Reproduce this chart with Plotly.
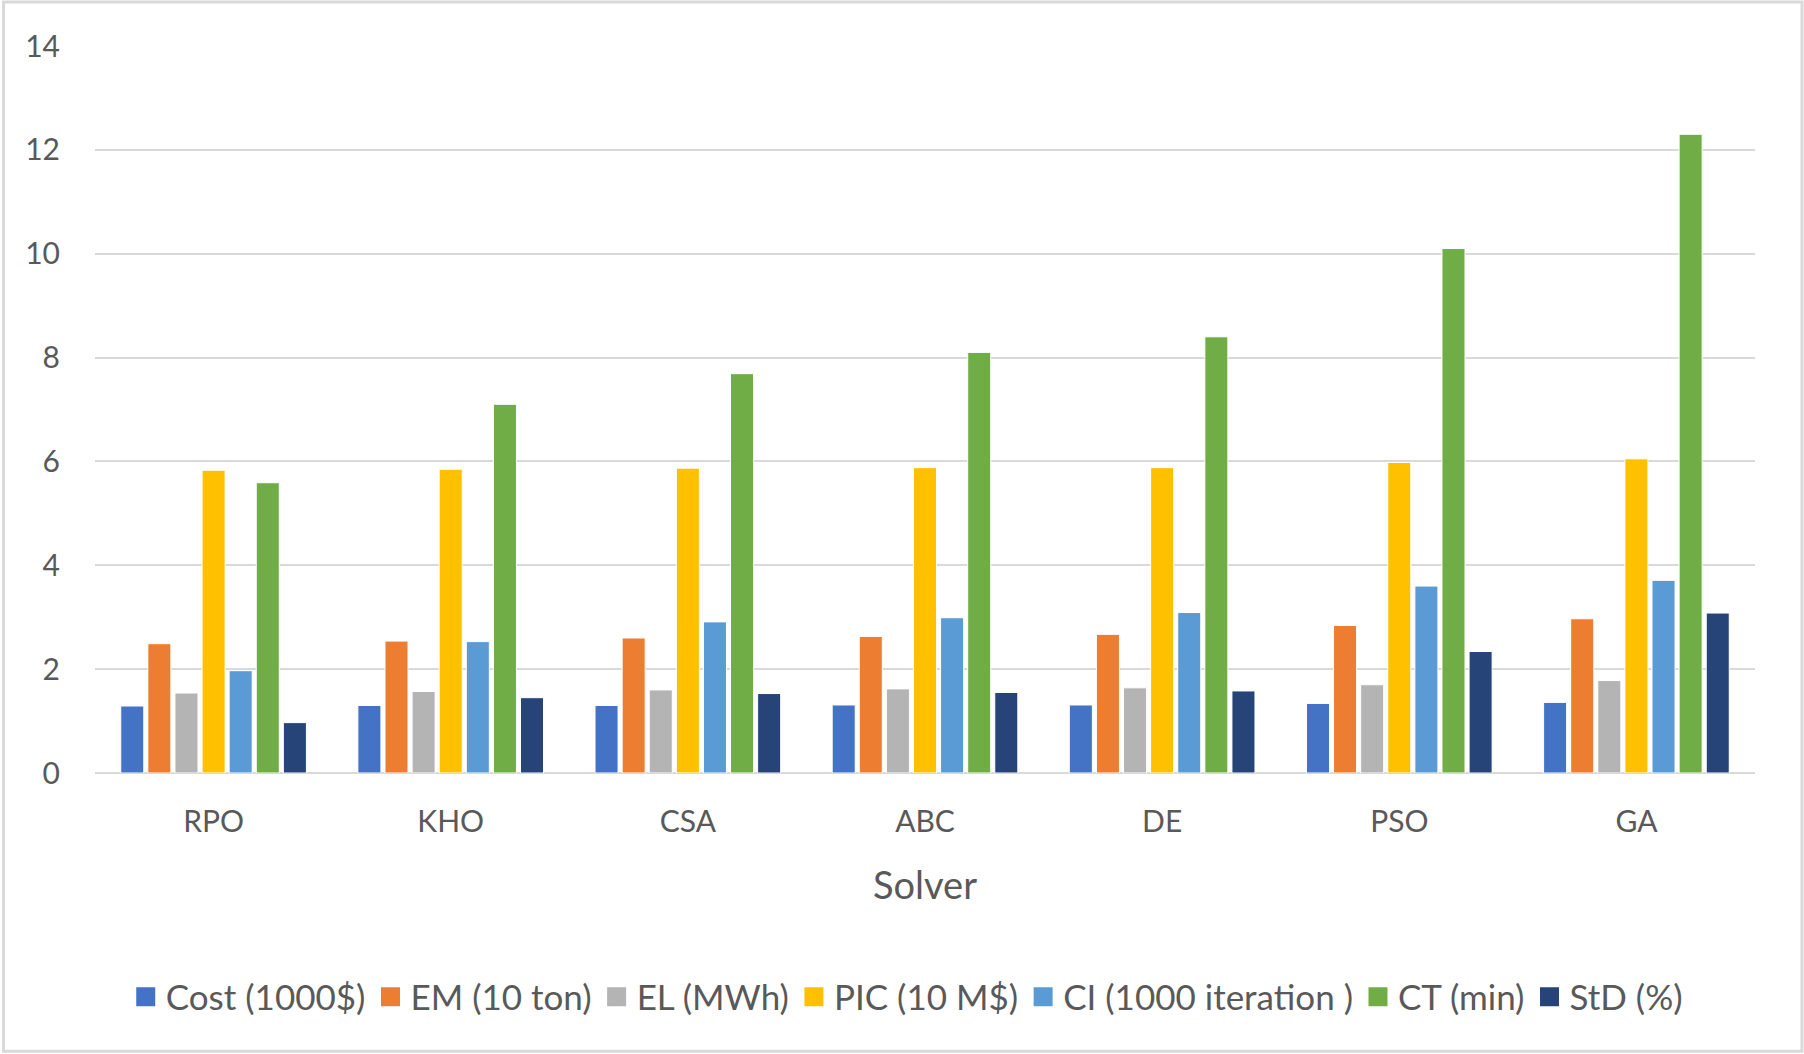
import plotly.graph_objects as go

solvers = ["RPO", "KHO", "CSA", "ABC", "DE", "PSO", "GA"]
series_names = ["Cost (1000$)", "EM (10 ton)", "EL (MWh)", "PIC (10 M$)",
                "CI (1000 iteration )", "CT (min)", "StD (%)"]
cost = [1.29, 1.30, 1.30, 1.31, 1.31, 1.34, 1.36]
em = [2.49, 2.54, 2.60, 2.63, 2.67, 2.84, 2.97]
el = [1.54, 1.57, 1.60, 1.62, 1.64, 1.70, 1.78]
pic = [5.83, 5.85, 5.87, 5.88, 5.88, 5.98, 6.05]
ci = [1.97, 2.53, 2.91, 2.99, 3.09, 3.60, 3.71]
ct = [5.59, 7.10, 7.69, 8.10, 8.40, 10.10, 12.30]
std = [0.97, 1.45, 1.53, 1.55, 1.58, 2.34, 3.08]
y_ticks = [0, 2, 4, 6, 8, 10, 12, 14]

colors = ["#4472C4", "#ED7D31", "#B4B4B4", "#FFC000", "#5B9BD5", "#70AD47", "#264478"]
values = [cost, em, el, pic, ci, ct, std]

FONT = "Lato"
TXT = "#595959"

fig = go.Figure()
for name, vals, col in zip(series_names, values, colors):
    fig.add_trace(go.Bar(
        x=solvers, y=vals, name=name, showlegend=False,
        marker=dict(color=col, line=dict(color="white", width=1)),
    ))
# legend entries with larger square swatches
for name, col in zip(series_names, colors):
    fig.add_trace(go.Scatter(
        x=[None], y=[None], name=name, mode="markers",
        marker=dict(symbol="square", size=16, color=col, line=dict(color=col, width=3)),
        showlegend=True, hoverinfo="skip",
    ))

fig.update_layout(
    width=1804, height=1054,
    margin=dict(l=95, r=49, t=46, b=281),
    paper_bgcolor="white", plot_bgcolor="white",
    barmode="group", bargap=0.2, bargroupgap=0.15,
    font=dict(family=FONT, color=TXT, size=30),
    showlegend=True,
    legend=dict(orientation="h", x=0.489, xanchor="center", y=-0.308, yanchor="middle",
                font=dict(family=FONT, size=35, color=TXT),
                traceorder="normal", itemwidth=30),
    xaxis=dict(
        showgrid=False, showline=False, zeroline=False,
        ticks="outside", ticklen=22, tickcolor="rgba(0,0,0,0)",
        tickfont=dict(family=FONT, size=30, color=TXT),
        title=dict(text="Solver", font=dict(family=FONT, size=38, color=TXT), standoff=35),
    ),
    yaxis=dict(
        range=[0, 14], tickvals=y_ticks,
        showgrid=True, gridcolor="#D9D9D9", gridwidth=2,
        zeroline=True, zerolinecolor="#D9D9D9", zerolinewidth=2,
        showline=False,
        ticks="outside", ticklen=28, tickcolor="rgba(0,0,0,0)",
        tickfont=dict(family=FONT, size=30, color=TXT),
    ),
    shapes=[dict(type="rect", xref="paper", yref="paper",
                 x0=-0.0551, x1=1.0283, y0=-0.3829, y1=1.0605,
                 line=dict(color="#D9D9D9", width=3), fillcolor="rgba(0,0,0,0)", layer="below")],
)

fig.write_html("out.html", config={"displayModeBar": False},
               post_script="document.body.style.margin='0';document.body.style.overflow='hidden';")
